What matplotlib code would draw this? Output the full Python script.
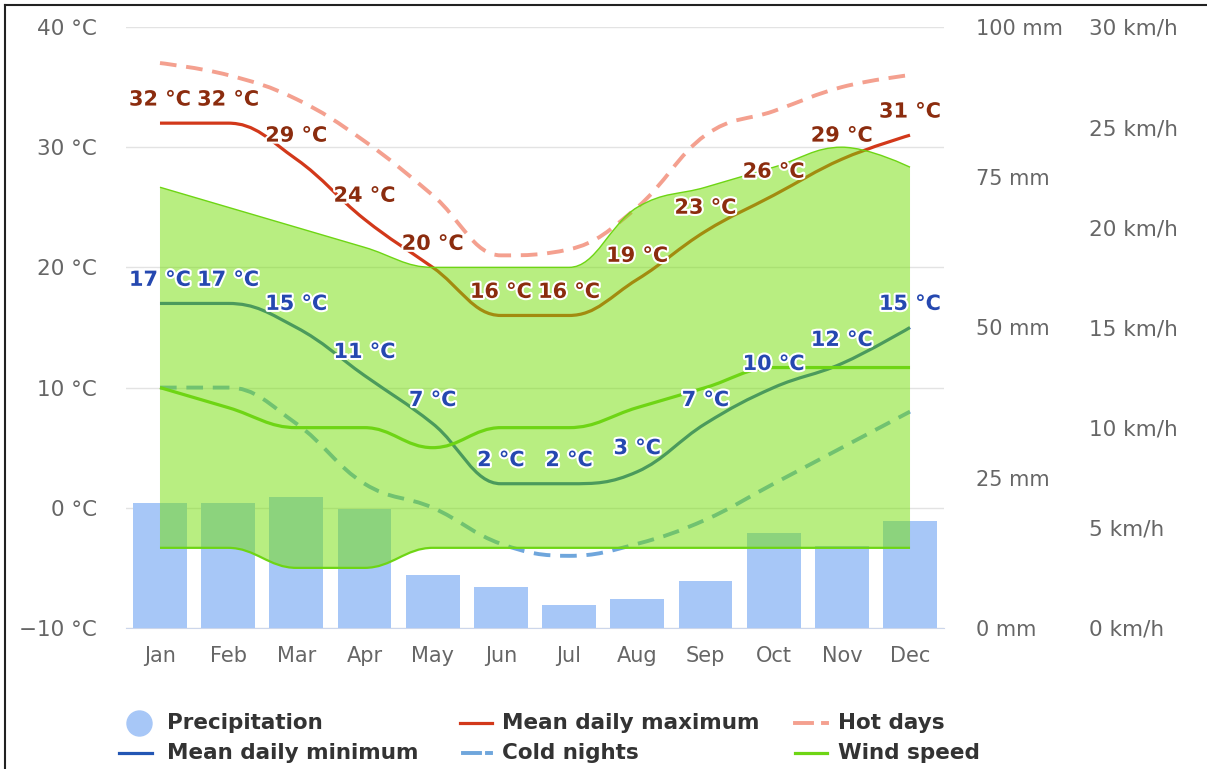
import matplotlib
matplotlib.use("Agg")
import matplotlib.pyplot as plt
import numpy as np
from matplotlib import patheffects
from matplotlib.path import Path
from matplotlib.patches import PathPatch
from matplotlib.lines import Line2D

# values
months = ["Jan", "Feb", "Mar", "Apr", "May", "Jun", "Jul", "Aug", "Sep", "Oct", "Nov", "Dec"]
precip_mm = [20.8, 20.8, 21.8, 19.8, 8.8, 6.8, 3.8, 4.8, 7.8, 15.8, 13.6, 17.8]
mean_max = [32, 32, 29, 24, 20, 16, 16, 19, 23, 26, 29, 31]
mean_min = [17, 17, 15, 11, 7, 2, 2, 3, 7, 10, 12, 15]
hot_days = [37, 36, 34, 30.5, 26, 21, 21.5, 25, 31, 33, 35, 36]
cold_nights = [10, 10, 7, 2, 0, -3, -4, -3, -1, 2, 5, 8]
wind_speed = [12, 11, 10, 10, 9, 10, 10, 11, 12, 13, 13, 13]
wind_low = [4, 4, 3, 3, 4, 4, 4, 4, 4, 4, 4, 4]
wind_high = [22, 21, 20, 19, 18, 18, 18, 21, 22, 23, 24, 23]

temp_ticks = [-10, 0, 10, 20, 30, 40]
mm_ticks = [0, 25, 50, 75, 100]
kmh_ticks = [0, 5, 10, 15, 20, 25, 30]

plt.rcParams["font.family"] = ["DejaVu Sans"]
plt.rcParams["lines.scale_dashes"] = False

C_MAX = "#d2381a"
C_MIN = "#2356b4"
C_HOT = "#f4a08f"
C_COLD = "#6fa6dc"
C_WIND = "#6ed514"
C_FILL = (0.45, 0.875, 0.02, 0.5)
C_BAR = "#a7c7f7"
GREY = "#666666"


def spline_ctrl(vals):
    # highcharts style spline control points
    y = np.asarray(vals, float)
    x = np.arange(len(y), dtype=float)
    lx, ly, rx, ry = x.copy(), y.copy(), x.copy(), y.copy()
    s = 1.5
    d = s + 1
    for i in range(1, len(y) - 1):
        lcx = (s * x[i] + x[i - 1]) / d
        lcy = (s * y[i] + y[i - 1]) / d
        rcx = (s * x[i] + x[i + 1]) / d
        rcy = (s * y[i] + y[i + 1]) / d
        corr = (rcy - lcy) * (rcx - x[i]) / (rcx - lcx) + y[i] - rcy
        lcy += corr
        rcy += corr
        if lcy > y[i - 1] and lcy > y[i]:
            lcy = max(y[i - 1], y[i]); rcy = 2 * y[i] - lcy
        elif lcy < y[i - 1] and lcy < y[i]:
            lcy = min(y[i - 1], y[i]); rcy = 2 * y[i] - lcy
        if rcy > y[i + 1] and rcy > y[i]:
            rcy = max(y[i + 1], y[i]); lcy = 2 * y[i] - rcy
        elif rcy < y[i + 1] and rcy < y[i]:
            rcy = min(y[i + 1], y[i]); lcy = 2 * y[i] - rcy
        lx[i], ly[i], rx[i], ry[i] = lcx, lcy, rcx, rcy
    return x, y, lx, ly, rx, ry


def spline_verts(vals):
    x, y, lx, ly, rx, ry = spline_ctrl(vals)
    verts = [(x[0], y[0])]
    codes = [Path.MOVETO]
    for i in range(1, len(y)):
        verts += [(rx[i - 1], ry[i - 1]), (lx[i], ly[i]), (x[i], y[i])]
        codes += [Path.CURVE4] * 3
    return verts, codes


def spline_patch(ax, vals, **kw):
    verts, codes = spline_verts(vals)
    p = PathPatch(Path(verts, codes), fill=False, **kw)
    ax.add_patch(p)
    return p


def spline_band(ax, top, bottom, **kw):
    vt, ct = spline_verts(top)
    x, y, lx, ly, rx, ry = spline_ctrl(bottom)
    verts = list(vt) + [(x[-1], y[-1])]
    codes = list(ct) + [Path.LINETO]
    for i in range(len(y) - 1, 0, -1):
        verts += [(lx[i], ly[i]), (rx[i - 1], ry[i - 1]), (x[i - 1], y[i - 1])]
        codes += [Path.CURVE4] * 3
    verts.append((x[0], y[0]))
    codes.append(Path.CLOSEPOLY)
    ax.add_patch(PathPatch(Path(verts, codes), **kw))


fig = plt.figure(figsize=(12.07, 7.69), dpi=100)
rect = [0.1043, 0.1834, 0.6779, 0.7815]
ax = fig.add_axes(rect)
axp = ax.twinx()
axt = ax.twinx()
axw = ax.twinx()
ax.set_zorder(0)
axp.set_zorder(1)
axt.set_zorder(2)
axw.set_zorder(3)

x = np.arange(len(months))

# temperature axis (grid + left labels + months)
ax.set_xlim(-0.5, 11.5)
ax.set_ylim(-10, 40)
ax.set_yticks(temp_ticks)
ax.set_yticklabels([f"{t} °C".replace("-", "\u2212") for t in temp_ticks])
ax.set_xticks(x)
ax.set_xticklabels(months)
ax.grid(axis="y", color="#e3e3e3", lw=1)
ax.set_axisbelow(True)
ax.tick_params(axis="y", length=0, pad=21, labelsize=15.5, labelcolor=GREY)
ax.tick_params(axis="x", length=0, pad=13, labelsize=15, labelcolor=GREY)
for k in ["top", "left", "right"]:
    ax.spines[k].set_visible(False)
ax.spines["bottom"].set_color("#ccd6eb")

# precipitation bars
axp.bar(x, precip_mm, width=0.79, color=C_BAR, zorder=1)
axp.set_ylim(0, 100)
axp.set_yticks(mm_ticks)
axp.set_yticklabels([f"{v} mm" for v in mm_ticks])
axp.tick_params(axis="y", length=0, pad=23, labelsize=15, labelcolor=GREY)

# temperature lines
axt.set_ylim(-10, 40)
axt.set_yticks([])
spline_patch(axt, hot_days, edgecolor=C_HOT, lw=2.8, linestyle=(0, (12, 7)))
spline_patch(axt, cold_nights, edgecolor=C_COLD, lw=2.8, linestyle=(0, (12, 7)))
spline_patch(axt, mean_max, edgecolor=C_MAX, lw=2.3)
spline_patch(axt, mean_min, edgecolor=C_MIN, lw=2.3)

# wind range and wind speed
axw.set_ylim(0, 30)
axw.set_yticks(kmh_ticks)
axw.set_yticklabels([f"{v} km/h" for v in kmh_ticks])
axw.tick_params(axis="y", length=0, pad=104, labelsize=15.5, labelcolor=GREY)
spline_band(axw, wind_high, wind_low, facecolor=C_FILL, edgecolor="none")
spline_patch(axw, wind_high, edgecolor=C_WIND, lw=1.0)
spline_patch(axw, wind_low, edgecolor=C_WIND, lw=1.6)
spline_patch(axw, wind_speed, edgecolor=C_WIND, lw=2.3)

for a in (axp, axt, axw):
    for s in a.spines.values():
        s.set_visible(False)
    a.set_xlim(-0.5, 11.5)

# data labels
outline = [patheffects.withStroke(linewidth=3, foreground="white")]
for i in range(len(months)):
    axw.annotate(f"{mean_max[i]} °C", (x[i], mean_max[i]), xycoords=axt.transData,
                 xytext=(0, 17), textcoords="offset points", ha="center", va="center",
                 fontsize=15, fontweight="bold", color="#8b2c0e", path_effects=outline,
                 annotation_clip=False)
    axw.annotate(f"{mean_min[i]} °C", (x[i], mean_min[i]), xycoords=axt.transData,
                 xytext=(0, 17), textcoords="offset points", ha="center", va="center",
                 fontsize=15, fontweight="bold", color="#2548b0", path_effects=outline,
                 annotation_clip=False)

# legend drawn by hand
W, H = 1207, 769
def fx(px):
    return px / W
def fy(py):
    return 1 - py / H

r1, r2 = 723, 753
fig.add_artist(Line2D([fx(139)], [fy(r1)], marker="o", markersize=18, color=C_BAR, lw=0))
fig.add_artist(Line2D([fx(119), fx(152)], [fy(r2)] * 2, color=C_MIN, lw=2.3))
fig.add_artist(Line2D([fx(460), fx(492)], [fy(r1)] * 2, color=C_MAX, lw=2.3))
fig.add_artist(Line2D([fx(463), fx(480)], [fy(r2)] * 2, color=C_COLD, lw=2.8))
fig.add_artist(Line2D([fx(487), fx(491)], [fy(r2)] * 2, color=C_COLD, lw=2.8))
fig.add_artist(Line2D([fx(795), fx(812)], [fy(r1)] * 2, color=C_HOT, lw=2.8))
fig.add_artist(Line2D([fx(823), fx(827)], [fy(r1)] * 2, color=C_HOT, lw=2.8))
fig.add_artist(Line2D([fx(795), fx(827)], [fy(r2)] * 2, color=C_WIND, lw=2.3))

leg = [("Precipitation", 167, r1), ("Mean daily maximum", 502, r1), ("Hot days", 838, r1),
       ("Mean daily minimum", 167, r2), ("Cold nights", 502, r2), ("Wind speed", 838, r2)]
for txt, px, py in leg:
    fig.text(fx(px), fy(py), txt, ha="left", va="center", fontsize=15.5,
             fontweight="bold", color="#333333")

# frame of the screenshot
fig.add_artist(Line2D([fx(5), fx(1207)], [fy(5)] * 2, color="#222222", lw=1.5))
fig.add_artist(Line2D([fx(5), fx(5)], [fy(5), 0], color="#222222", lw=1.5))

fig.savefig("out.png", dpi=100)
